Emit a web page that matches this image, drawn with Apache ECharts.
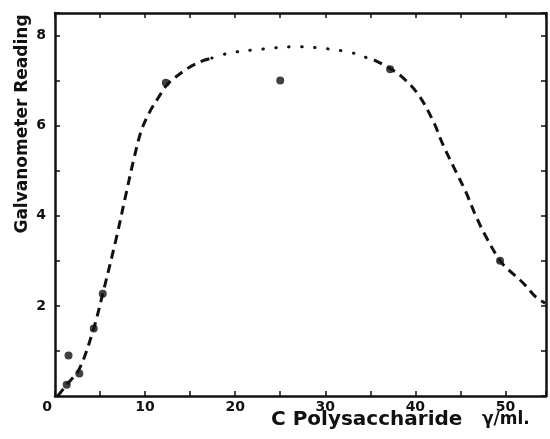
<!DOCTYPE html>
<html>
<head>
<meta charset="utf-8">
<script src="https://cdn.jsdelivr.net/npm/echarts@6/dist/echarts.min.js"></script>
<style>
  html, body { margin: 0; padding: 0; background: #fff; }
  #chart { width: 550px; height: 439px; }
</style>
</head>
<body>
<div id="chart"></div>
<script>
// Points mesurés
const measured = [
  [1.3, 0.25], [1.5, 0.9], [2.7, 0.5], [4.3, 1.5], [5.3, 2.27],
  [12.3, 6.95], [25, 7.0], [37.2, 7.25], [49.4, 3.0]
];

// Courbe tracée à la main
const curveRise = [
  [0.3, 0], [1.3, 0.25], [2.7, 0.6], [4.3, 1.5], [5.3, 2.27], [6.8, 3.5],
  [7.9, 4.5], [8.8, 5.3], [9.6, 5.9], [10.5, 6.3], [11.5, 6.63],
  [12.4, 6.9], [13.4, 7.08], [14.8, 7.28], [16.3, 7.43], [17.4, 7.5]
];
const curveTop = [
  [17.4, 7.5], [18.5, 7.57], [19.9, 7.63], [23, 7.7], [26.6, 7.75],
  [29.5, 7.72], [32.7, 7.63], [34.1, 7.54], [35.4, 7.46]
];
const curveFall = [
  [35.4, 7.46], [37.1, 7.28], [38.7, 7.05], [40.4, 6.67], [42.0, 6.09],
  [43.1, 5.56], [44.5, 4.98], [45.6, 4.53], [46.7, 4.0], [47.8, 3.55],
  [49.4, 3.0], [50.3, 2.81], [51.9, 2.52], [53.3, 2.21], [54.4, 2.06]
];

const xLabels = [0, 10, 20, 30, 40, 50];
const yLabels = [2, 4, 6, 8];

const INK = '#111';
const FONT = 'DejaVu Sans';

const chart = echarts.init(document.getElementById('chart'), null, { renderer: 'canvas' });

const tickStyle = { show: true, inside: true, length: 5, lineStyle: { color: INK, width: 1.5 } };
const lineStyleAxis = { show: true, onZero: false, lineStyle: { color: INK, width: 2.5 } };

chart.setOption({
  backgroundColor: '#fff',
  animation: false,
  grid: { left: 55, right: 4, top: 13, bottom: 43 },
  xAxis: [{
    type: 'value', min: 0, max: 54.5, interval: 5,
    axisLine: lineStyleAxis, axisTick: tickStyle, splitLine: { show: false },
    axisLabel: {
      margin: 4, color: INK, fontFamily: FONT, fontWeight: 'bold', fontSize: 14,
      formatter: v => {
        if (v === 0) return '{z|0}';
        return xLabels.includes(v) ? String(v) : '';
      },
      rich: {
        z: { fontFamily: FONT, fontWeight: 'bold', fontSize: 14, color: INK, padding: [0, 16, 0, 0] }
      }
    }
  }, {
    type: 'value', position: 'top', min: 0, max: 54.5, interval: 5,
    axisLine: lineStyleAxis, axisTick: tickStyle, splitLine: { show: false },
    axisLabel: { show: false }
  }],
  yAxis: [{
    type: 'value', min: 0, max: 8.5, interval: 1,
    axisLine: lineStyleAxis, axisTick: tickStyle, splitLine: { show: false },
    axisLabel: {
      margin: 9, color: INK, fontFamily: FONT, fontWeight: 'bold', fontSize: 14,
      formatter: v => (yLabels.includes(v) ? String(v) : '')
    }
  }, {
    type: 'value', position: 'right', min: 0, max: 8.5, interval: 1,
    axisLine: lineStyleAxis, axisTick: tickStyle, splitLine: { show: false },
    axisLabel: { show: false }
  }],
  graphic: [{
    type: 'text', x: 23, y: 124, rotation: Math.PI / 2,
    style: {
      text: 'Galvanometer Reading', fill: INK, font: 'bold 17px "DejaVu Sans"',
      align: 'center', verticalAlign: 'middle'
    }
  }, {
    type: 'text', left: 271, top: 410,
    style: {
      text: 'C Polysaccharide', fill: INK, font: 'bold 20px "DejaVu Sans"'
    }
  }, {
    type: 'text', left: 482, top: 411,
    style: {
      text: 'γ/ml.', fill: INK, font: 'bold 17px "DejaVu Sans"'
    }
  }],
  series: [{
    type: 'line', data: curveRise, smooth: 0.35, symbol: 'none',
    lineStyle: { color: INK, width: 3, type: [9, 6] }
  }, {
    type: 'line', data: curveTop, smooth: 0.4, symbol: 'none',
    lineStyle: { color: INK, width: 3, type: [0.5, 12.5], cap: 'round' }
  }, {
    type: 'line', data: curveFall, smooth: 0.35, symbol: 'none',
    lineStyle: { color: INK, width: 3, type: [9, 6] }
  }, {
    type: 'scatter', data: measured, symbol: 'circle', symbolSize: 8,
    itemStyle: { color: INK }, z: 5
  }]
});
</script>
</body>
</html>
